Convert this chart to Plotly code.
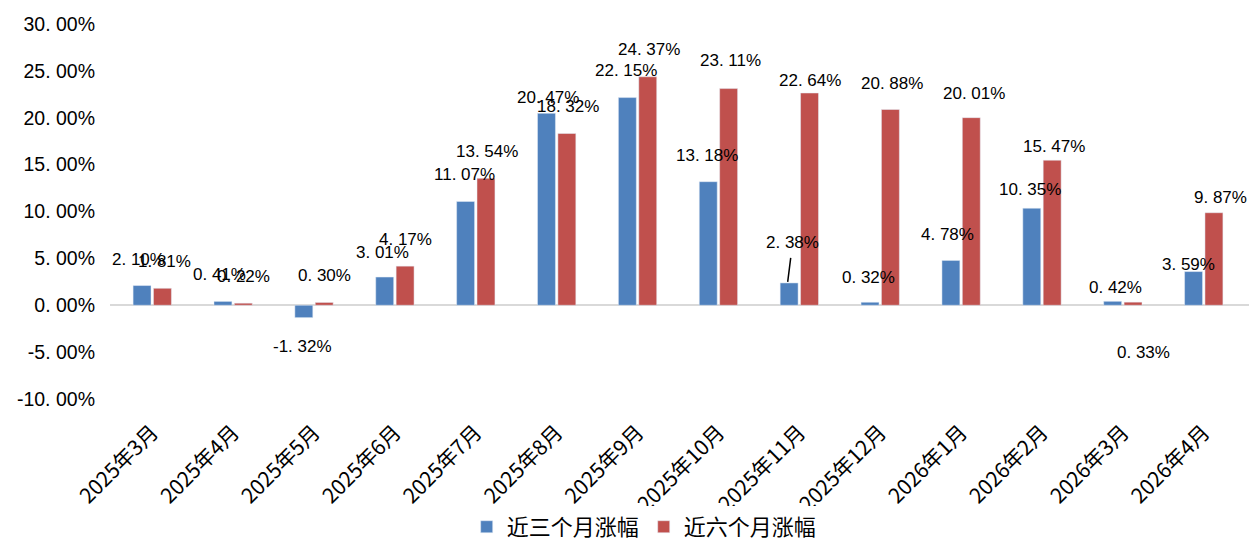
import plotly.graph_objects as go

months = ["2025年3月", "2025年4月", "2025年5月", "2025年6月", "2025年7月", "2025年8月",
          "2025年9月", "2025年10月", "2025年11月", "2025年12月", "2026年1月", "2026年2月",
          "2026年3月", "2026年4月"]
chg_3m = [2.10, 0.41, -1.32, 3.01, 11.07, 20.47, 22.15, 13.18, 2.38, 0.32, 4.78, 10.35, 0.42, 3.59]
chg_6m = [1.81, 0.22, 0.30, 4.17, 13.54, 18.32, 24.37, 23.11, 22.64, 20.88, 20.01, 15.47, 0.33, 9.87]
names = ["近三个月涨幅", "近六个月涨幅"]
yticks = [-10, -5, 0, 5, 10, 15, 20, 25, 30]

BLUE = "#4F81BD"
RED = "#C0504D"
NUMFONT = "Liberation Sans, Arial, Noto Sans CJK SC"
CJKFONT = "Noto Sans CJK SC, Liberation Sans"

# label nudges in pixels (dx, dy) - the source chart has hand placed labels
blue_dx = [-2, -2, 0, -1, 0, 3, 0, 0, 5, 0, -2, 0, 4, -4]
blue_dy = [26, 27, -29, 25, 27, 16, 27, 26, 40, 25, 26, 19, 14, 7]
red_dx = [0, -1, -1, -1, -1, 0, 0, 0, -1, 0, 1, 0, 9, 5]
red_dy = [27, 27, 27, 27, 27, 27, 27, 28, 13, 26, 24, 14, -50, 15]
bar_off = 11.75


def pct(v):
    return "{:.2f}%".format(v).replace(".", ". ")


fig = go.Figure()
fig.add_trace(go.Bar(x=months, y=chg_3m, name=names[0], marker_color=BLUE))
fig.add_trace(go.Bar(x=months, y=chg_6m, name=names[1], marker_color=RED))

annos = []
for i, m in enumerate(months):
    v = chg_3m[i]
    if i == 8:
        # this one has a leader line in the original
        annos.append(dict(x=m, y=v, xref="x", yref="y", text=pct(v), showarrow=True,
                          arrowhead=0, arrowwidth=1.5, arrowcolor="black",
                          ax=blue_dx[i], ay=-blue_dy[i], standoff=1, startstandoff=4,
                          xshift=-bar_off, font=dict(family=NUMFONT, size=17, color="black")))
    else:
        annos.append(dict(x=m, y=v, xref="x", yref="y", text=pct(v), showarrow=False,
                          xshift=-bar_off + blue_dx[i], yshift=blue_dy[i], yanchor="middle",
                          font=dict(family=NUMFONT, size=17, color="black")))
    v = chg_6m[i]
    annos.append(dict(x=m, y=v, xref="x", yref="y", text=pct(v), showarrow=False,
                      xshift=bar_off + red_dx[i], yshift=red_dy[i], yanchor="middle",
                      font=dict(family=NUMFONT, size=17, color="black")))

fig.update_layout(
    width=1253, height=541,
    margin=dict(l=110, r=4, t=24, b=142),
    plot_bgcolor="white", paper_bgcolor="white",
    barmode="group", bargap=0.496, bargroupgap=0.12,
    annotations=annos,
    showlegend=True,
    legend=dict(orientation="h", x=0.469, xanchor="center", y=0.026, yref="container",
                yanchor="middle", font=dict(family=CJKFONT, size=22, color="black"),
                itemwidth=30, tracegroupgap=0),
)
fig.update_xaxes(showgrid=False, showline=False, ticks="", tickangle=-45, automargin=False,
                 tickfont=dict(family=CJKFONT, size=21, color="black"),
                 ticklabelstandoff=16)
fig.update_yaxes(range=[-10, 30], tickvals=yticks, ticktext=[pct(t) for t in yticks],
                 showgrid=False, showline=False, ticks="", automargin=False,
                 zeroline=True, zerolinecolor="#D9D9D9", zerolinewidth=2,
                 tickfont=dict(family=NUMFONT, size=19.5, color="black"),
                 ticklabelstandoff=14)

# page body has a default 8px margin, drop it so the figure sits at the corner
fig.write_html("out.html", config={"displayModeBar": False},
               post_script="document.body.style.margin='0';")
